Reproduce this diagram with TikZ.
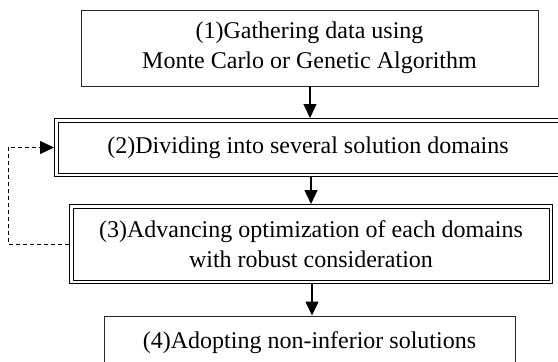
\documentclass[tikz,border=0pt]{standalone}
\usepackage{fontspec}
\setmainfont{Liberation Serif}
\usetikzlibrary{arrows.meta}
\usetikzlibrary{calc}

\begin{document}
\begin{tikzpicture}[x=1pt,y=-1pt,
  font=\fontsize{24}{30}\selectfont,
  plainbox/.style={draw=black!85,line width=0.9pt,align=center,inner sep=0pt},
  dblbox/.style={draw,line width=1pt,double,double distance=2.5pt,outer sep=2.25pt,align=center,inner sep=0pt},
  flow/.style={line width=1.2pt,-{Triangle[length=14pt,width=13pt]}}]
\useasboundingbox (0,0) rectangle (558,362);
\begin{scope}
\clip (0,0) rectangle (558,362);
\node (gather) [plainbox,minimum width=457pt,minimum height=76pt] at (309.5,48) {(1)Gathering data using\\Monte Carlo or Genetic Algorithm};
\node (divide) [dblbox,minimum width=503.5pt,minimum height=54.5pt] at (308,147.5) {(2)Dividing into several solution domains};
\node (advance) [dblbox,minimum width=479.5pt,minimum height=75.5pt] at (311,244) {(3)Advancing optimization of each domains\\with robust consideration};
\node (adopt) [plainbox,minimum width=411pt,minimum height=54pt] at (309.5,343) {(4)Adopting non-inferior solutions};
\end{scope}
\draw[flow] (gather.south -| 310,0) -- (divide.north -| 310,0);
\draw[flow] (divide.south -| 311,0) -- (advance.north -| 311,0);
\draw[flow] (advance.south -| 312,0) -- (adopt.north -| 312,0);
\draw[line width=0.9pt,dash pattern=on 4pt off 3pt,-{Triangle[length=14pt,width=13pt]}] (advance.west) -- ++(-61,0) |- (divide.west);
\end{tikzpicture}
\end{document}
